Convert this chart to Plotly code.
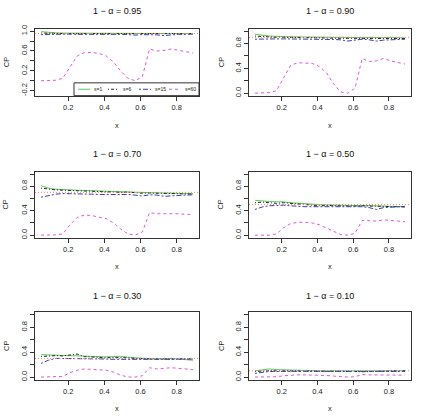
import plotly.graph_objects as go

W, H = 422, 417

xs = [0.05, 0.09, 0.13, 0.17, 0.21, 0.25, 0.29, 0.33, 0.37, 0.41, 0.45,
      0.49, 0.53, 0.57, 0.61, 0.65, 0.69, 0.73, 0.77, 0.81, 0.85, 0.89]

levels = [0.95, 0.90, 0.70, 0.50, 0.30, 0.10]
titles = ["1 \u2212 \u03b1 = 0.95", "1 \u2212 \u03b1 = 0.90", "1 \u2212 \u03b1 = 0.70",
          "1 \u2212 \u03b1 = 0.50", "1 \u2212 \u03b1 = 0.30", "1 \u2212 \u03b1 = 0.10"]
series_names = ["s=1", "s=6", "s=15", "s=60"]

# 1 - alpha = 0.95
p95_s1 = [0.99, 0.97, 0.965, 0.96, 0.96, 0.96, 0.96, 0.96, 0.96, 0.955, 0.955, 0.955, 0.955, 0.955, 0.95, 0.95, 0.95, 0.945, 0.95, 0.95, 0.95, 0.95]
p95_s6 = [0.96, 0.955, 0.95, 0.955, 0.95, 0.95, 0.95, 0.955, 0.95, 0.95, 0.95, 0.945, 0.945, 0.95, 0.945, 0.945, 0.94, 0.94, 0.945, 0.95, 0.945, 0.95]
p95_s15 = [0.93, 0.935, 0.94, 0.94, 0.94, 0.935, 0.94, 0.94, 0.935, 0.935, 0.94, 0.935, 0.93, 0.92, 0.93, 0.935, 0.925, 0.91, 0.93, 0.935, 0.935, 0.94]
p95_s60 = [0.0, 0.0, 0.01, 0.05, 0.27, 0.50, 0.57, 0.57, 0.55, 0.50, 0.38, 0.20, 0.05, 0.0, 0.08, 0.64, 0.60, 0.61, 0.64, 0.61, 0.58, 0.56]
# 1 - alpha = 0.90
p90_s1 = [0.95, 0.93, 0.92, 0.915, 0.91, 0.91, 0.91, 0.905, 0.905, 0.90, 0.90, 0.90, 0.90, 0.895, 0.895, 0.895, 0.90, 0.895, 0.895, 0.90, 0.895, 0.89]
p90_s6 = [0.92, 0.91, 0.905, 0.90, 0.90, 0.90, 0.895, 0.895, 0.89, 0.89, 0.89, 0.885, 0.885, 0.88, 0.885, 0.89, 0.885, 0.88, 0.885, 0.885, 0.88, 0.88]
p90_s15 = [0.87, 0.875, 0.875, 0.875, 0.875, 0.875, 0.87, 0.87, 0.87, 0.87, 0.87, 0.865, 0.86, 0.84, 0.855, 0.87, 0.86, 0.84, 0.855, 0.86, 0.865, 0.87]
p90_s60 = [0.0, 0.0, 0.01, 0.04, 0.25, 0.45, 0.49, 0.49, 0.48, 0.43, 0.33, 0.15, 0.02, 0.0, 0.08, 0.56, 0.51, 0.52, 0.56, 0.52, 0.49, 0.47]
# 1 - alpha = 0.70
p70_s1 = [0.81, 0.77, 0.75, 0.74, 0.74, 0.735, 0.73, 0.725, 0.725, 0.72, 0.715, 0.705, 0.70, 0.695, 0.69, 0.69, 0.69, 0.69, 0.69, 0.69, 0.685, 0.68]
p70_s6 = [0.77, 0.75, 0.74, 0.735, 0.73, 0.725, 0.72, 0.72, 0.715, 0.705, 0.70, 0.70, 0.705, 0.695, 0.685, 0.69, 0.685, 0.68, 0.685, 0.68, 0.675, 0.67]
p70_s15 = [0.62, 0.65, 0.67, 0.68, 0.68, 0.675, 0.67, 0.67, 0.665, 0.665, 0.67, 0.67, 0.665, 0.655, 0.64, 0.66, 0.655, 0.635, 0.645, 0.65, 0.655, 0.66]
p70_s60 = [0.0, 0.0, 0.005, 0.02, 0.17, 0.29, 0.33, 0.32, 0.30, 0.27, 0.20, 0.10, 0.02, 0.0, 0.05, 0.37, 0.35, 0.35, 0.36, 0.35, 0.34, 0.34]
# 1 - alpha = 0.50
p50_s1 = [0.57, 0.555, 0.55, 0.545, 0.545, 0.53, 0.52, 0.51, 0.50, 0.50, 0.495, 0.49, 0.49, 0.485, 0.485, 0.485, 0.485, 0.48, 0.475, 0.47, 0.47, 0.465]
p50_s6 = [0.53, 0.54, 0.53, 0.52, 0.53, 0.52, 0.50, 0.49, 0.485, 0.48, 0.485, 0.48, 0.48, 0.475, 0.475, 0.48, 0.475, 0.47, 0.47, 0.465, 0.465, 0.46]
p50_s15 = [0.42, 0.46, 0.48, 0.485, 0.49, 0.48, 0.47, 0.465, 0.465, 0.465, 0.47, 0.47, 0.465, 0.465, 0.465, 0.465, 0.45, 0.42, 0.45, 0.46, 0.465, 0.47]
p50_s60 = [0.0, 0.0, 0.0, 0.02, 0.12, 0.19, 0.21, 0.21, 0.20, 0.17, 0.12, 0.06, 0.01, 0.0, 0.03, 0.24, 0.23, 0.23, 0.25, 0.24, 0.23, 0.22]
# 1 - alpha = 0.30
p30_s1 = [0.36, 0.355, 0.35, 0.345, 0.345, 0.345, 0.335, 0.33, 0.325, 0.325, 0.33, 0.335, 0.32, 0.31, 0.30, 0.295, 0.295, 0.30, 0.30, 0.29, 0.28, 0.27]
p30_s6 = [0.33, 0.34, 0.345, 0.34, 0.36, 0.37, 0.33, 0.32, 0.31, 0.31, 0.315, 0.315, 0.31, 0.30, 0.295, 0.285, 0.29, 0.29, 0.285, 0.29, 0.295, 0.29]
p30_s15 = [0.22, 0.27, 0.30, 0.30, 0.295, 0.29, 0.29, 0.29, 0.29, 0.29, 0.285, 0.285, 0.28, 0.28, 0.28, 0.28, 0.275, 0.28, 0.285, 0.29, 0.29, 0.29]
p30_s60 = [0.0, 0.0, 0.0, 0.01, 0.07, 0.11, 0.13, 0.12, 0.12, 0.11, 0.08, 0.03, 0.0, 0.0, 0.02, 0.15, 0.13, 0.14, 0.15, 0.14, 0.13, 0.12]
# 1 - alpha = 0.10
p10_s1 = [0.10, 0.12, 0.13, 0.12, 0.115, 0.11, 0.11, 0.105, 0.10, 0.10, 0.10, 0.10, 0.095, 0.095, 0.09, 0.09, 0.09, 0.09, 0.10, 0.10, 0.095, 0.10]
p10_s6 = [0.09, 0.10, 0.10, 0.10, 0.10, 0.10, 0.10, 0.095, 0.095, 0.095, 0.095, 0.095, 0.09, 0.09, 0.09, 0.085, 0.09, 0.09, 0.095, 0.10, 0.10, 0.10]
p10_s15 = [0.06, 0.08, 0.09, 0.09, 0.09, 0.09, 0.09, 0.09, 0.09, 0.09, 0.09, 0.09, 0.09, 0.085, 0.085, 0.085, 0.085, 0.085, 0.09, 0.09, 0.09, 0.09]
p10_s60 = [0.0, 0.0, 0.0, 0.005, 0.02, 0.03, 0.035, 0.035, 0.035, 0.03, 0.025, 0.015, 0.005, 0.0, 0.005, 0.04, 0.035, 0.035, 0.04, 0.035, 0.03, 0.03]

panels = [
    [p95_s1, p95_s6, p95_s15, p95_s60],
    [p90_s1, p90_s6, p90_s15, p90_s60],
    [p70_s1, p70_s6, p70_s15, p70_s60],
    [p50_s1, p50_s6, p50_s15, p50_s60],
    [p30_s1, p30_s6, p30_s15, p30_s60],
    [p10_s1, p10_s6, p10_s15, p10_s60],
]

colors = ["#5cc85c", "#222222", "#3b3bb8", "#dd55dd"]
dashes = ["solid", "1px,2px,3px,2px", "2px,2px,5px,2px", "3px,3px"]
ref_color = "#ee8866"
FONT = "Liberation Sans, Arial, sans-serif"

# layout geometry (pixels)
col_px = [(35, 199), (249, 411)]
row_px = [(25, 93), (170, 237), (313, 381)]
title_py = [7, 152, 296]
xlab_py = [123, 266, 410]
cp_px = [6, 221]

fig = go.Figure()
annotations = []
shapes = []

for i in range(6):
    r, c = divmod(i, 2)
    ax = "" if i == 0 else str(i + 1)
    x0p, x1p = col_px[c]
    y0p, y1p = row_px[r]
    for k in range(4):
        fig.add_trace(go.Scatter(
            x=xs, y=panels[i][k], mode="lines", name=series_names[k],
            line=dict(color=colors[k], width=1, dash=dashes[k]),
            xaxis="x" + ax, yaxis="y" + ax, showlegend=False))
    if i == 0:
        yr = [-0.3, 1.05]
        tv = [-0.2, 0.0, 0.2, 0.4, 0.6, 0.8, 1.0]
        tt = ["-0.2", "", "0.2", "", "0.6", "", "1.0"]
    else:
        yr = [-0.04, 1.04]
        tv = [0.0, 0.2, 0.4, 0.6, 0.8, 1.0]
        tt = ["0.0", "", "0.4", "", "0.8", ""]
    common = dict(showline=True, mirror=True, linecolor="#333333", linewidth=1,
                  ticks="outside", ticklen=4, tickwidth=1, tickcolor="#333333",
                  showgrid=False, zeroline=False,
                  tickfont=dict(family=FONT, size=7.5, color="#222222"))
    fig.update_layout(**{
        "xaxis" + ax: dict(domain=[x0p / W, x1p / W], range=[0.0164, 0.9236],
                           tickvals=[0.2, 0.4, 0.6, 0.8], ticktext=["0.2", "0.4", "0.6", "0.8"],
                           anchor="y" + ax, **common),
        "yaxis" + ax: dict(domain=[1 - y1p / H, 1 - y0p / H], range=yr,
                           tickvals=tv, ticktext=tt, tickangle=-90,
                           anchor="x" + ax, **common),
    })
    shapes.append(dict(type="line", xref="x" + ax + " domain", yref="y" + ax,
                       x0=0, x1=1, y0=levels[i], y1=levels[i],
                       line=dict(color=ref_color, width=1, dash="1px,2px")))
    annotations.append(dict(text=titles[i], x=(x0p + x1p) / 2 / W, y=1 - title_py[r] / H,
                            xref="paper", yref="paper", showarrow=False,
                            xanchor="center", yanchor="middle",
                            font=dict(family=FONT, size=9, color="#111111")))
    annotations.append(dict(text="x", x=(x0p + x1p) / 2 / W, y=1 - xlab_py[r] / H,
                            xref="paper", yref="paper", showarrow=False,
                            xanchor="center", yanchor="middle",
                            font=dict(family=FONT, size=7.5, color="#222222")))
    annotations.append(dict(text="CP", x=cp_px[c] / W, y=1 - (y0p + y1p) / 2 / H,
                            xref="paper", yref="paper", showarrow=False, textangle=-90,
                            xanchor="center", yanchor="middle",
                            font=dict(family=FONT, size=7.5, color="#222222")))

# legend box in the first panel (drawn as decoration)
lx0, lx1, ly0, ly1 = 74, 199, 80, 93
shapes.append(dict(type="rect", xref="paper", yref="paper",
                   x0=lx0 / W, x1=lx1 / W, y0=1 - ly1 / H, y1=1 - ly0 / H,
                   line=dict(color="#333333", width=1), fillcolor="white", layer="above"))
seg = [(78, 90, 93), (108, 119, 122), (139, 151, 154), (169, 181, 184)]
ly = 1 - 86.5 / H
for k in range(4):
    a, b, t = seg[k]
    shapes.append(dict(type="line", xref="paper", yref="paper", x0=a / W, x1=b / W,
                       y0=ly, y1=ly, layer="above",
                       line=dict(color=colors[k], width=1, dash=dashes[k])))
    annotations.append(dict(text=series_names[k], x=t / W, y=ly, xref="paper", yref="paper",
                            showarrow=False, xanchor="left", yanchor="middle", borderpad=0,
                            font=dict(family=FONT, size=5, color="#222222")))

fig.update_layout(width=W, height=H, margin=dict(l=0, r=0, t=0, b=0),
                  paper_bgcolor="white", plot_bgcolor="white",
                  shapes=shapes, annotations=annotations, showlegend=False)

fig.write_html("out.html")
